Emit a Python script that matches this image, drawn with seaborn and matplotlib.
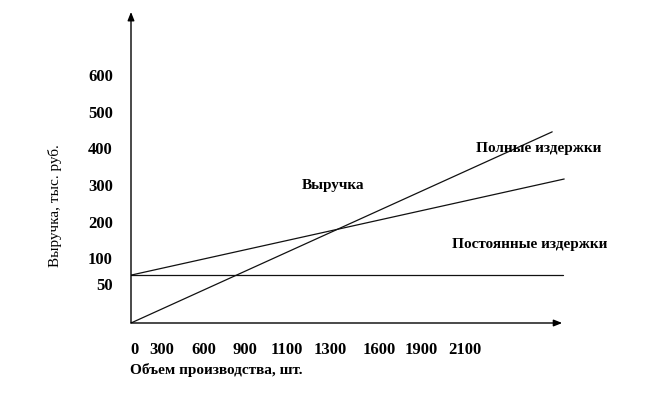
import pandas as pd
import seaborn as sns
import matplotlib.pyplot as plt

# tick labels (schematic, unevenly numbered axes)
volume_labels = ['0', '300', '600', '900', '1100', '1300', '1600', '1900', '2100']
money_labels = ['600', '500', '400', '300', '200', '100', '50']

# line end points, in axis units
revenue_x = [0, 10.53]
revenue_y = [0, 5.31]
total_x = [0, 10.83]
total_y = [1.33, 4.0]
fixed_x = [0, 10.8]
fixed_y = [1.33, 1.33]

# layout
volume_pos = [0.08, 0.78, 1.82, 2.85, 3.9, 4.98, 6.2, 7.25, 8.35]
money_pos = [6.89, 5.86, 4.86, 3.83, 2.81, 1.81, 1.08]

df = pd.concat([
    pd.DataFrame({'x': revenue_x, 'y': revenue_y, 'line': 'Выручка'}),
    pd.DataFrame({'x': total_x, 'y': total_y, 'line': 'Полные издержки'}),
    pd.DataFrame({'x': fixed_x, 'y': fixed_y, 'line': 'Постоянные издержки'}),
])

sns.set_style('white')
plt.rcParams['font.family'] = ['Liberation Serif', 'DejaVu Serif']
plt.rcParams['text.color'] = 'black'
plt.rcParams['xtick.color'] = 'black'
plt.rcParams['ytick.color'] = 'black'

fig = plt.figure(figsize=(6.6, 3.99), dpi=100)
ax = fig.add_axes([131 / 660, 76 / 399, 480 / 660, 320.4 / 399])

sns.lineplot(data=df, x='x', y='y', hue='line', units='line', estimator=None,
             sort=False, palette=['#111111'] * 3, linewidth=0.9,
             legend=False, ax=ax)

ax.set_xlim(0, 12)
ax.set_ylim(0, 8.9)
for s in ax.spines.values():
    s.set_visible(False)

ax.set_xticks(volume_pos, volume_labels, fontsize=12, fontweight='bold')
ax.set_yticks(money_pos, money_labels, fontsize=12, fontweight='bold')
ax.tick_params(axis='x', length=0, pad=13.5)
ax.tick_params(axis='y', length=0, pad=13)
ax.set_xlabel('')
ax.set_ylabel('')

# axes with arrows
arrow = dict(arrowstyle='-|>,head_length=0.5,head_width=0.2', color='black',
             lw=1, shrinkA=0, shrinkB=0)
ax.annotate('', xy=(0, 8.64), xytext=(0, 0), arrowprops=arrow,
            annotation_clip=False)
ax.annotate('', xy=(10.78, 0), xytext=(0, 0), arrowprops=arrow,
            annotation_clip=False)

ax.text(10.19, 4.86, 'Полные издержки', fontsize=11, fontweight='bold',
        ha='center', va='center')
ax.text(5.05, 3.83, 'Выручка', fontsize=11, fontweight='bold',
        ha='center', va='center')
ax.text(9.975, 2.17, 'Постоянные издержки', fontsize=11, fontweight='bold',
        ha='center', va='center')

fig.text(55 / 660, 1 - 206 / 399, 'Выручка, тыс. руб.', fontsize=11,
         rotation=90, ha='center', va='center')
fig.text(130 / 660, 1 - 370 / 399, 'Объем производства, шт.', fontsize=11,
         fontweight='bold', ha='left', va='center')

fig.savefig('out.png', dpi=100)
